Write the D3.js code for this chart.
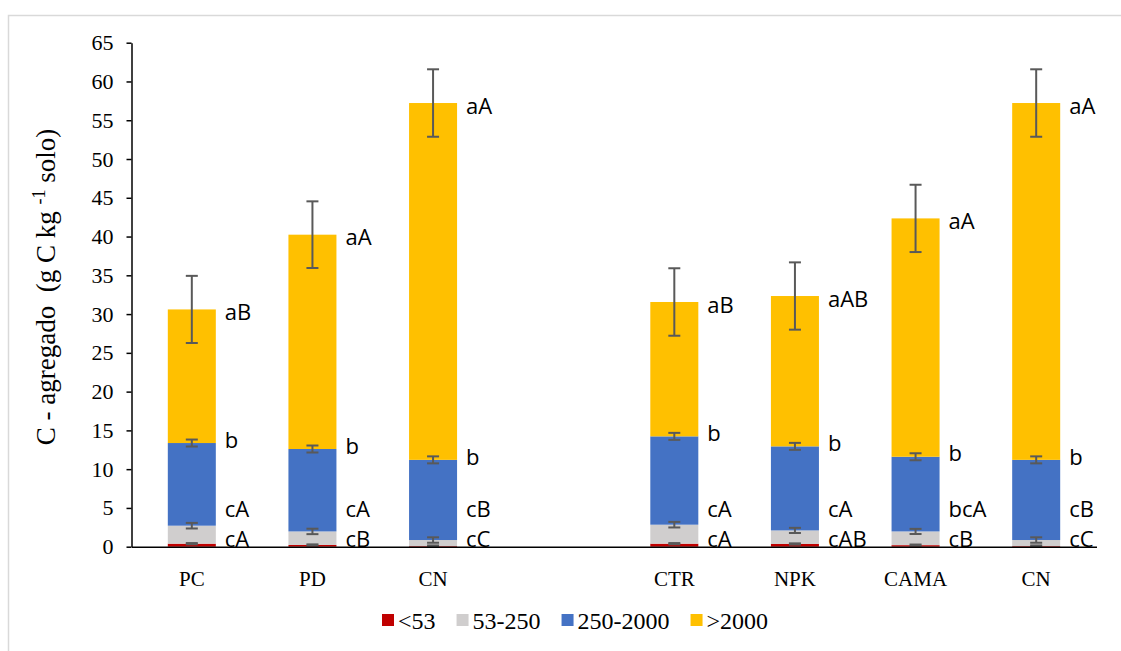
<!DOCTYPE html>
<html>
<head>
<meta charset="utf-8">
<script src="https://cdn.jsdelivr.net/npm/d3@7"></script>
<style>
  html, body { margin: 0; padding: 0; background: #fff; }
  svg { display: block; }
</style>
</head>
<body>
<svg id="chart" width="1121" height="651"></svg>
<script>
// Treatments (the empty slot separates the two experiments)
const categories = ["PC", "PD", "CN", "", "CTR", "NPK", "CAMA", "CN"];

// Aggregate-size classes (µm), bottom to top of each stack
const sizeClasses = ["<53", "53-250", "250-2000", ">2000"];

// Carbon in each aggregate class (g C kg-1 soil)
const cLt53      = [0.39, 0.22, 0.08, null, 0.39, 0.35, 0.20, 0.08];
const c53to250   = [2.32, 1.75, 0.78, null, 2.45, 1.75, 1.77, 0.78];
const c250to2000 = [10.66, 10.63, 10.34, null, 11.39, 10.84, 9.63, 10.34];
const cGt2000    = [17.23, 27.64, 46.02, null, 17.33, 19.39, 30.74, 46.02];

// Error bars (± at the top of each segment)
const errLt53      = [0.08, 0.08, 0.08, null, 0.08, 0.08, 0.08, 0.08];
const err53to250   = [0.36, 0.35, 0.35, null, 0.36, 0.33, 0.33, 0.35];
const err250to2000 = [0.45, 0.45, 0.45, null, 0.45, 0.45, 0.45, 0.45];
const errGt2000    = [4.33, 4.30, 4.35, null, 4.35, 4.34, 4.34, 4.35];

// Letters of the mean-comparison tests
const letLt53      = ["cA", "cB", "cC", "", "cA", "cAB", "cB", "cC"];
const let53to250   = ["cA", "cA", "cB", "", "cA", "cA", "bcA", "cB"];
const let250to2000 = ["b", "b", "b", "", "b", "b", "b", "b"];
const letGt2000    = ["aB", "aA", "aA", "", "aB", "aAB", "aA", "aA"];

// Y axis ticks
const yTicks = [0, 5, 10, 15, 20, 25, 30, 35, 40, 45, 50, 55, 60, 65];

const colors = ["#C00000", "#D0CECE", "#4472C4", "#FFC000"];
const serif = "'Liberation Serif', 'Times New Roman', serif";
const sans = "'Open Sans', 'Noto Sans', sans-serif";

const svg = d3.select("#chart");

// outer chart frame
svg.append("rect")
  .attr("x", 8.5).attr("y", 15.5)
  .attr("width", 1200).attr("height", 700)
  .attr("fill", "#fff")
  .attr("stroke", "#d9d9d9").attr("stroke-width", 1.5);

const x = d3.scaleBand()
  .domain(d3.range(categories.length))
  .range([131.5, 1096.5])
  .paddingInner(0.602)
  .paddingOuter(0.301);

const y = d3.scaleLinear().domain([0, 65]).range([546.7, 42.7]);

const series = [cLt53, c53to250, c250to2000, cGt2000];
const errors = [errLt53, err53to250, err250to2000, errGt2000];

const rows = categories.map((c, i) => {
  const r = { i };
  sizeClasses.forEach((k, j) => r[k] = series[j][i] || 0);
  return r;
}).filter(r => categories[r.i] !== "");

const stacked = d3.stack().keys(sizeClasses)(rows);

// stacked bars
const gBars = svg.append("g");
stacked.forEach((layer, j) => {
  gBars.append("g")
    .attr("fill", colors[j])
    .selectAll("rect")
    .data(layer)
    .join("rect")
    .attr("x", d => x(d.data.i))
    .attr("width", x.bandwidth())
    .attr("y", d => y(d[1]))
    .attr("height", d => y(d[0]) - y(d[1]));
});

// error bars at the top of each segment
const gErr = svg.append("g").attr("stroke", "#595959").attr("stroke-width", 2);
stacked.forEach((layer, j) => {
  layer.forEach(d => {
    const e = errors[j][d.data.i];
    const cx = x(d.data.i) + x.bandwidth() / 2;
    const top = y(d[1] + e), bot = y(d[1] - e);
    gErr.append("line").attr("x1", cx).attr("x2", cx).attr("y1", top).attr("y2", bot);
    gErr.append("line").attr("x1", cx - 6).attr("x2", cx + 6).attr("y1", top).attr("y2", top);
    gErr.append("line").attr("x1", cx - 6).attr("x2", cx + 6).attr("y1", bot).attr("y2", bot);
  });
});

// letters beside each bar
const gLab = svg.append("g")
  .attr("font-family", sans).attr("font-size", 22).attr("fill", "#000");
rows.forEach(r => {
  const i = r.i;
  const lx = x(i) + x.bandwidth() + 9;
  const total = cLt53[i] + c53to250[i] + c250to2000[i] + cGt2000[i];
  const blueTop = cLt53[i] + c53to250[i] + c250to2000[i];
  gLab.append("text").attr("x", lx).attr("y", y(total) + 3).attr("dy", "0.35em").text(letGt2000[i]);
  gLab.append("text").attr("x", lx).attr("y", y(blueTop) - 3).attr("dy", "0.35em").text(let250to2000[i]);
  gLab.append("text").attr("x", lx).attr("y", y(4.85)).attr("dy", "0.35em").text(let53to250[i]);
  gLab.append("text").attr("x", lx).attr("y", y(0.9)).attr("dy", "0.35em").text(letLt53[i]);
});

// y axis
const yAxis = svg.append("g")
  .attr("transform", "translate(131.5,0)")
  .call(d3.axisLeft(y).tickValues(yTicks).tickSize(5).tickPadding(13).tickSizeOuter(0));
yAxis.select(".domain").attr("stroke", "#000").attr("stroke-width", 1.5);
yAxis.selectAll(".tick line").attr("stroke", "#000").attr("stroke-width", 1.5);
yAxis.selectAll(".tick text")
  .attr("font-family", serif).attr("font-size", 22).attr("fill", "#000");

// x axis
const xAxis = svg.append("g")
  .attr("transform", "translate(0,546.7)")
  .call(d3.axisBottom(x).tickSize(0).tickPadding(24).tickFormat(i => categories[i]));
xAxis.select(".domain").attr("stroke", "#000").attr("stroke-width", 1.5);
xAxis.selectAll(".tick text")
  .attr("font-family", serif).attr("font-size", 21).attr("fill", "#000");

// y axis title
const yTitle = svg.append("text")
  .attr("transform", "translate(55,287) rotate(-90)")
  .attr("text-anchor", "middle")
  .style("white-space", "pre")
  .attr("font-family", serif).attr("font-size", 27).attr("fill", "#000");
yTitle.append("tspan").text("C - agregado  (g C kg ");
yTitle.append("tspan").attr("dy", -10).attr("font-size", 18).text("-1");
yTitle.append("tspan").attr("dy", 10).text(" solo)");

// legend
const legend = svg.append("g").attr("font-family", serif).attr("font-size", 24);
let lx = 382;
sizeClasses.forEach((k, j) => {
  legend.append("rect").attr("x", lx).attr("y", 614).attr("width", 12).attr("height", 12).attr("fill", colors[j]);
  const t = legend.append("text").attr("x", lx + 16).attr("y", 629).attr("fill", "#000").text(k);
  lx += 16 + t.node().getComputedTextLength() + 21;
});
</script>
</body>
</html>
